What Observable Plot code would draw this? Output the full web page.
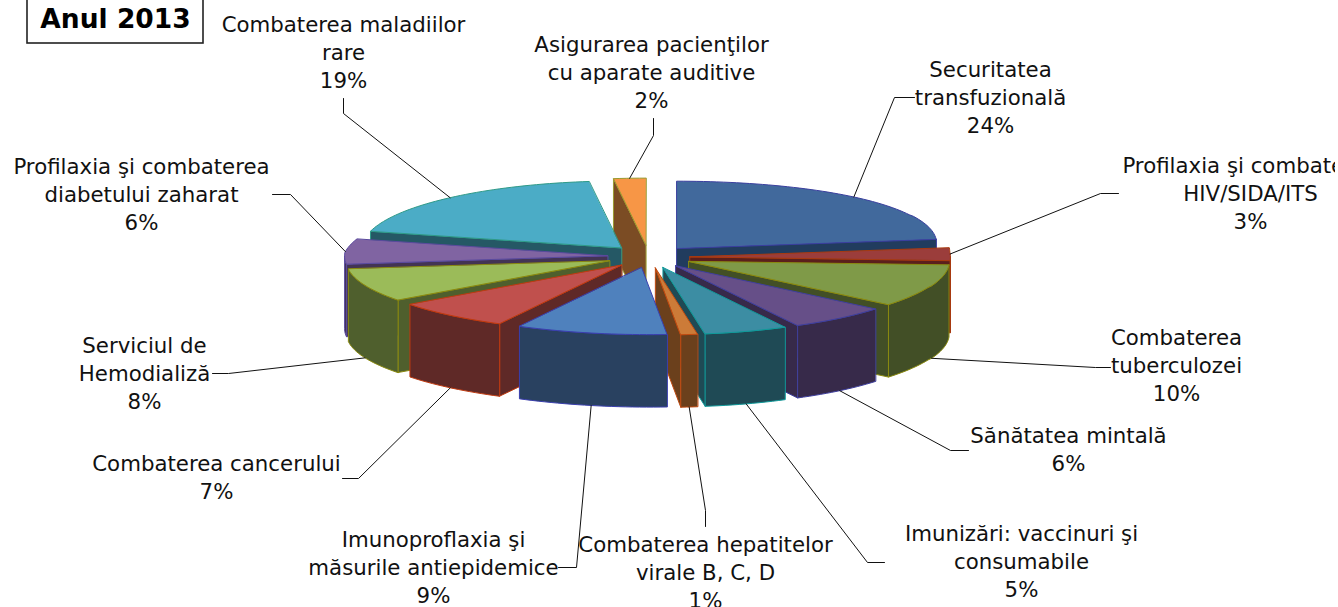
<!DOCTYPE html>
<html>
<head>
<meta charset="utf-8">
<script src="https://cdn.jsdelivr.net/npm/d3@7"></script>
<script src="https://cdn.jsdelivr.net/npm/@observablehq/plot@0.6"></script>
<style>
html,body{margin:0;padding:0;background:#fff;overflow:hidden}
svg{display:block}
</style>
</head>
<body>
<div id="chart"></div>
<script>
// data (percent), clockwise from the top
const names = ["Securitatea\ntransfuzională","Profilaxia şi combaterea\nHIV/SIDA/ITS","Combaterea\ntuberculozei","Sănătatea mintală","Imunizări: vaccinuri şi\nconsumabile","Combaterea hepatitelor\nvirale B, C, D","Imunoproflaxia şi\nmăsurile antiepidemice","Combaterea cancerului","Serviciul de\nHemodializă","Profilaxia şi combaterea\ndiabetului zaharat","Combaterea maladiilor\nrare","Asigurarea pacienţilor\ncu aparate auditive"];
const values = [24,3,10,6,5,1,9,7,8,6,19,2];
const topColors  = ["#41699c","#9b3d3b","#7f9a48","#664f88","#3c8da3","#cc7b38","#4f81bd","#c0504d","#9bbb59","#8064a2","#4bacc6","#f79646"];
const wallColors = ["#213c5e","#5b1f1c","#424f26","#372a4a","#1f4a55","#6b401c","#294160","#5f2927","#4f5f2d","#433454","#255865","#7b4c24"];
const edgeColors = ["#3a3f9e","#a83a10","#8a8a10","#3f3f9e","#109a9a","#c04a10","#3a3fae","#c03a10","#8a8a10","#5a4a9e","#2f9a88","#9a9a30"];
const paintOrder = [11,0,10,1,9,2,8,3,7,4,5,6];

// label positions: centre x, centre y of the block, and elbow of the leader
const labelX = [990,1250,1176,1068,1021,705,433,216,144,141,343,651];
const labelY = [96,192,364,448,560,571,566,476,372,193,51,71];
const leaderStartX = [914,1118,1110,968,884,705,558,342,212,272,343,653];
const leaderStartY = [97,193,367,450,562,526,567,478,373,194,98,118];
const leaderElbowX = [894,1100,1095,950,867,705,576,358,228,290,343,653];
const leaderElbowY = [97,193,367,450,562,510,567,478,373,194,113,135];

// view of the tilted, exploded pie
const W = 1335, H = 607;
const cx = 648, cy = 256, rx = 259, ry = 67, explodeX = 41, explodeY = 11.4, depth = 72.5;
const total = d3.sum(values);
const rad = Math.PI / 180;

function project(X, Y, ax, ay) {
  let dx = Y < 0 ? (-Y) * (8.5 + 10.5 * X) : 0;
  if (X < 0) dx += 4 * X * X * X * Math.max(0, Math.min(1, (0.25 - Y) / 0.2));
  if (X > 0.9) dx += 1;
  const dy = X > 0 ? -5 * X * X : 0;
  return {x: ax + rx * X + dx, y: ay - ry * Y + dy};
}

let acc = 0;
const slices = values.map((v, i) => {
  const a0 = acc / total * 360; acc += v; const a1 = acc / total * 360;
  const mid = (a0 + a1) / 2;
  const mx = Math.sin(mid * rad), my = Math.cos(mid * rad);
  const shift = my < 0 ? 3 * Math.min(1, -my * 3) * Math.max(-0.3, Math.min(1, 1 + mx * 1.4)) : 0;
  const ax = cx + explodeX * mx + shift;
  const ay = cy - explodeY * my;
  const n = Math.max(2, Math.ceil((a1 - a0) / 1.5));
  const arc = d3.range(n + 1).map(k => {
    const a = (a0 + (a1 - a0) * k / n) * rad;
    return project(Math.sin(a), Math.cos(a), ax, ay);
  });
  const m = project(mx, my, ax, ay);
  const anchor = {x: m.x, y: m.y + (my < -0.1 ? depth : 0)};
  return {i, apex: {x: ax, y: ay}, arc, anchor};
});

const faces = [];
let fid = 0;
function face(points, fill, stroke) {
  const id = fid++;
  points.forEach(p => faces.push({id, x: p.x, y: p.y, fill, stroke}));
}
const drop = p => ({x: p.x, y: p.y + depth});
function wall(pts, i) {
  face([...pts, ...pts.slice().reverse().map(drop)], wallColors[i], edgeColors[i]);
}
for (const i of paintOrder) {
  const {apex, arc} = slices[i];
  const last = arc[arc.length - 1];
  if (arc[0].x < apex.x) wall([apex, arc[0]], i);
  if (apex.x < last.x) wall([last, apex], i);
  const vis = arc.filter((p, k) => (k < arc.length - 1 && arc[k + 1].x < p.x) || (k > 0 && p.x < arc[k - 1].x));
  if (vis.length > 1) wall(vis, i);
  face([apex, ...arc], topColors[i], edgeColors[i]);
}

const leaders = slices.flatMap(s => [
  {id: s.i, x: leaderStartX[s.i], y: leaderStartY[s.i]},
  {id: s.i, x: leaderElbowX[s.i], y: leaderElbowY[s.i]},
  {id: s.i, x: s.anchor.x, y: s.anchor.y}
]);
const labels = names.map((n, i) => ({x: labelX[i], y: labelY[i], text: `${n}\n${values[i]}%`}));

const plot = Plot.plot({
  width: W, height: H,
  margin: 0,
  x: {domain: [0, W], range: [0, W], axis: null},
  y: {domain: [0, H], range: [0, H], axis: null},
  color: {type: "identity"},
  style: {background: "#fff", fontFamily: "'DejaVu Sans', Verdana, sans-serif"},
  marks: [
    Plot.line(faces, {x: "x", y: "y", z: "id", fill: "fill", stroke: "stroke", strokeWidth: 1, curve: "linear-closed"}),
    Plot.line(leaders, {x: "x", y: "y", z: "id", stroke: "#111", strokeWidth: 1}),
    Plot.text(labels, {x: "x", y: "y", text: "text", fontSize: 21.3, lineHeight: 1.315, textAnchor: "middle", lineAnchor: "middle", fill: "#111"}),
    Plot.rect([{x1: 27, x2: 203, y1: -5, y2: 43}], {x1: "x1", x2: "x2", y1: "y1", y2: "y2", fill: "#fff", stroke: "#222", strokeWidth: 1.6}),
    Plot.text(["Anul 2013"], {x: () => 115, y: () => 19, text: d => d, fontSize: 26.5, fontWeight: "bold", textAnchor: "middle", lineAnchor: "middle", fill: "#000"})
  ]
});
document.getElementById("chart").appendChild(plot);
</script>
</body>
</html>
